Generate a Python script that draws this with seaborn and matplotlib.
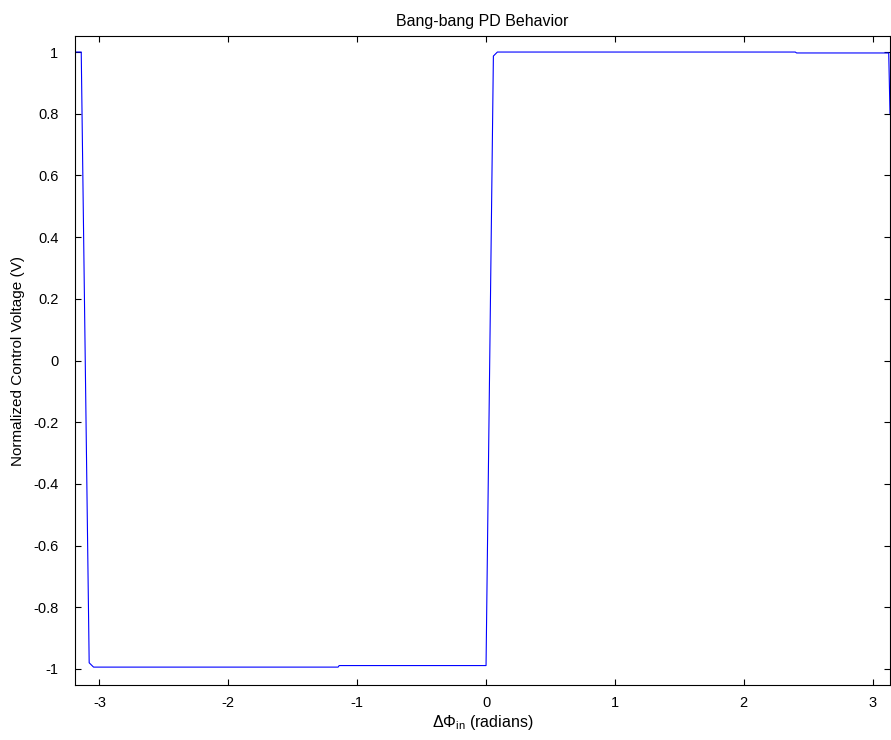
import matplotlib
matplotlib.use("Agg")
import matplotlib.pyplot as plt
import seaborn as sns
import numpy as np
import pandas as pd

# Data
phase = [-3.18, -3.1416, -3.08, -3.046, -1.148, -1.140, 0.0, 0.057, 0.088, 2.400, 2.410, 3.125, 3.135]
voltage = [1.0, 1.0, -0.98, -0.994, -0.994, -0.989, -0.989, 0.987, 1.0, 1.0, 0.997, 0.997, 0.80]
x_ticks = [-3, -2, -1, 0, 1, 2, 3]
y_ticks = [-1, -0.8, -0.6, -0.4, -0.2, 0, 0.2, 0.4, 0.6, 0.8, 1]
y_tick_labels = ["-1", "-0.8", "-0.6", "-0.4", "-0.2", "0", "0.2", "0.4", "0.6", "0.8", "1"]

df = pd.DataFrame({"phase": phase, "voltage": voltage})

sns.set_theme(style="white")
plt.rcParams["font.family"] = ["Liberation Sans", "DejaVu Sans"]
plt.rcParams["mathtext.fontset"] = "custom"
plt.rcParams["mathtext.rm"] = "Liberation Sans"
plt.rcParams["mathtext.it"] = "Liberation Sans"
plt.rcParams["text.color"] = "black"
plt.rcParams["axes.labelcolor"] = "black"
plt.rcParams["axes.titlecolor"] = "black"

fig = plt.figure(figsize=(8.91, 7.40), dpi=100)
ax = fig.add_axes([75 / 891, 1 - 685 / 740, 815 / 891, 649 / 740])

sns.lineplot(data=df, x="phase", y="voltage", sort=False, estimator=None,
             color="#0000ff", linewidth=0.8, ax=ax)

ax.set_xlim(-3.19, 3.135)
ax.set_ylim(-1.052, 1.052)
ax.set_xticks(x_ticks)
ax.set_xticklabels([str(t) for t in x_ticks])
ax.set_yticks(y_ticks)
ax.set_yticklabels(y_tick_labels)
ax.tick_params(direction="in", length=4, width=0.8, colors="black",
               labelsize=10.5, top=True, right=True, bottom=True, left=True,
               labeltop=False, labelright=False)
ax.tick_params(axis="y", pad=12)
ax.tick_params(axis="x", pad=8)
for s in ax.spines.values():
    s.set_color("black")
    s.set_linewidth(0.8)

ax.set_title("Bang-bang PD Behavior", fontsize=11.5, pad=7, color="black")
ax.set_xlabel(r"$\Delta\Phi_{\mathrm{in}}$ (radians)", fontsize=11.5, labelpad=2, color="black")
ax.set_ylabel("Normalized Control Voltage (V)", fontsize=11, labelpad=6, color="black")

fig.savefig("out.png", dpi=100)
